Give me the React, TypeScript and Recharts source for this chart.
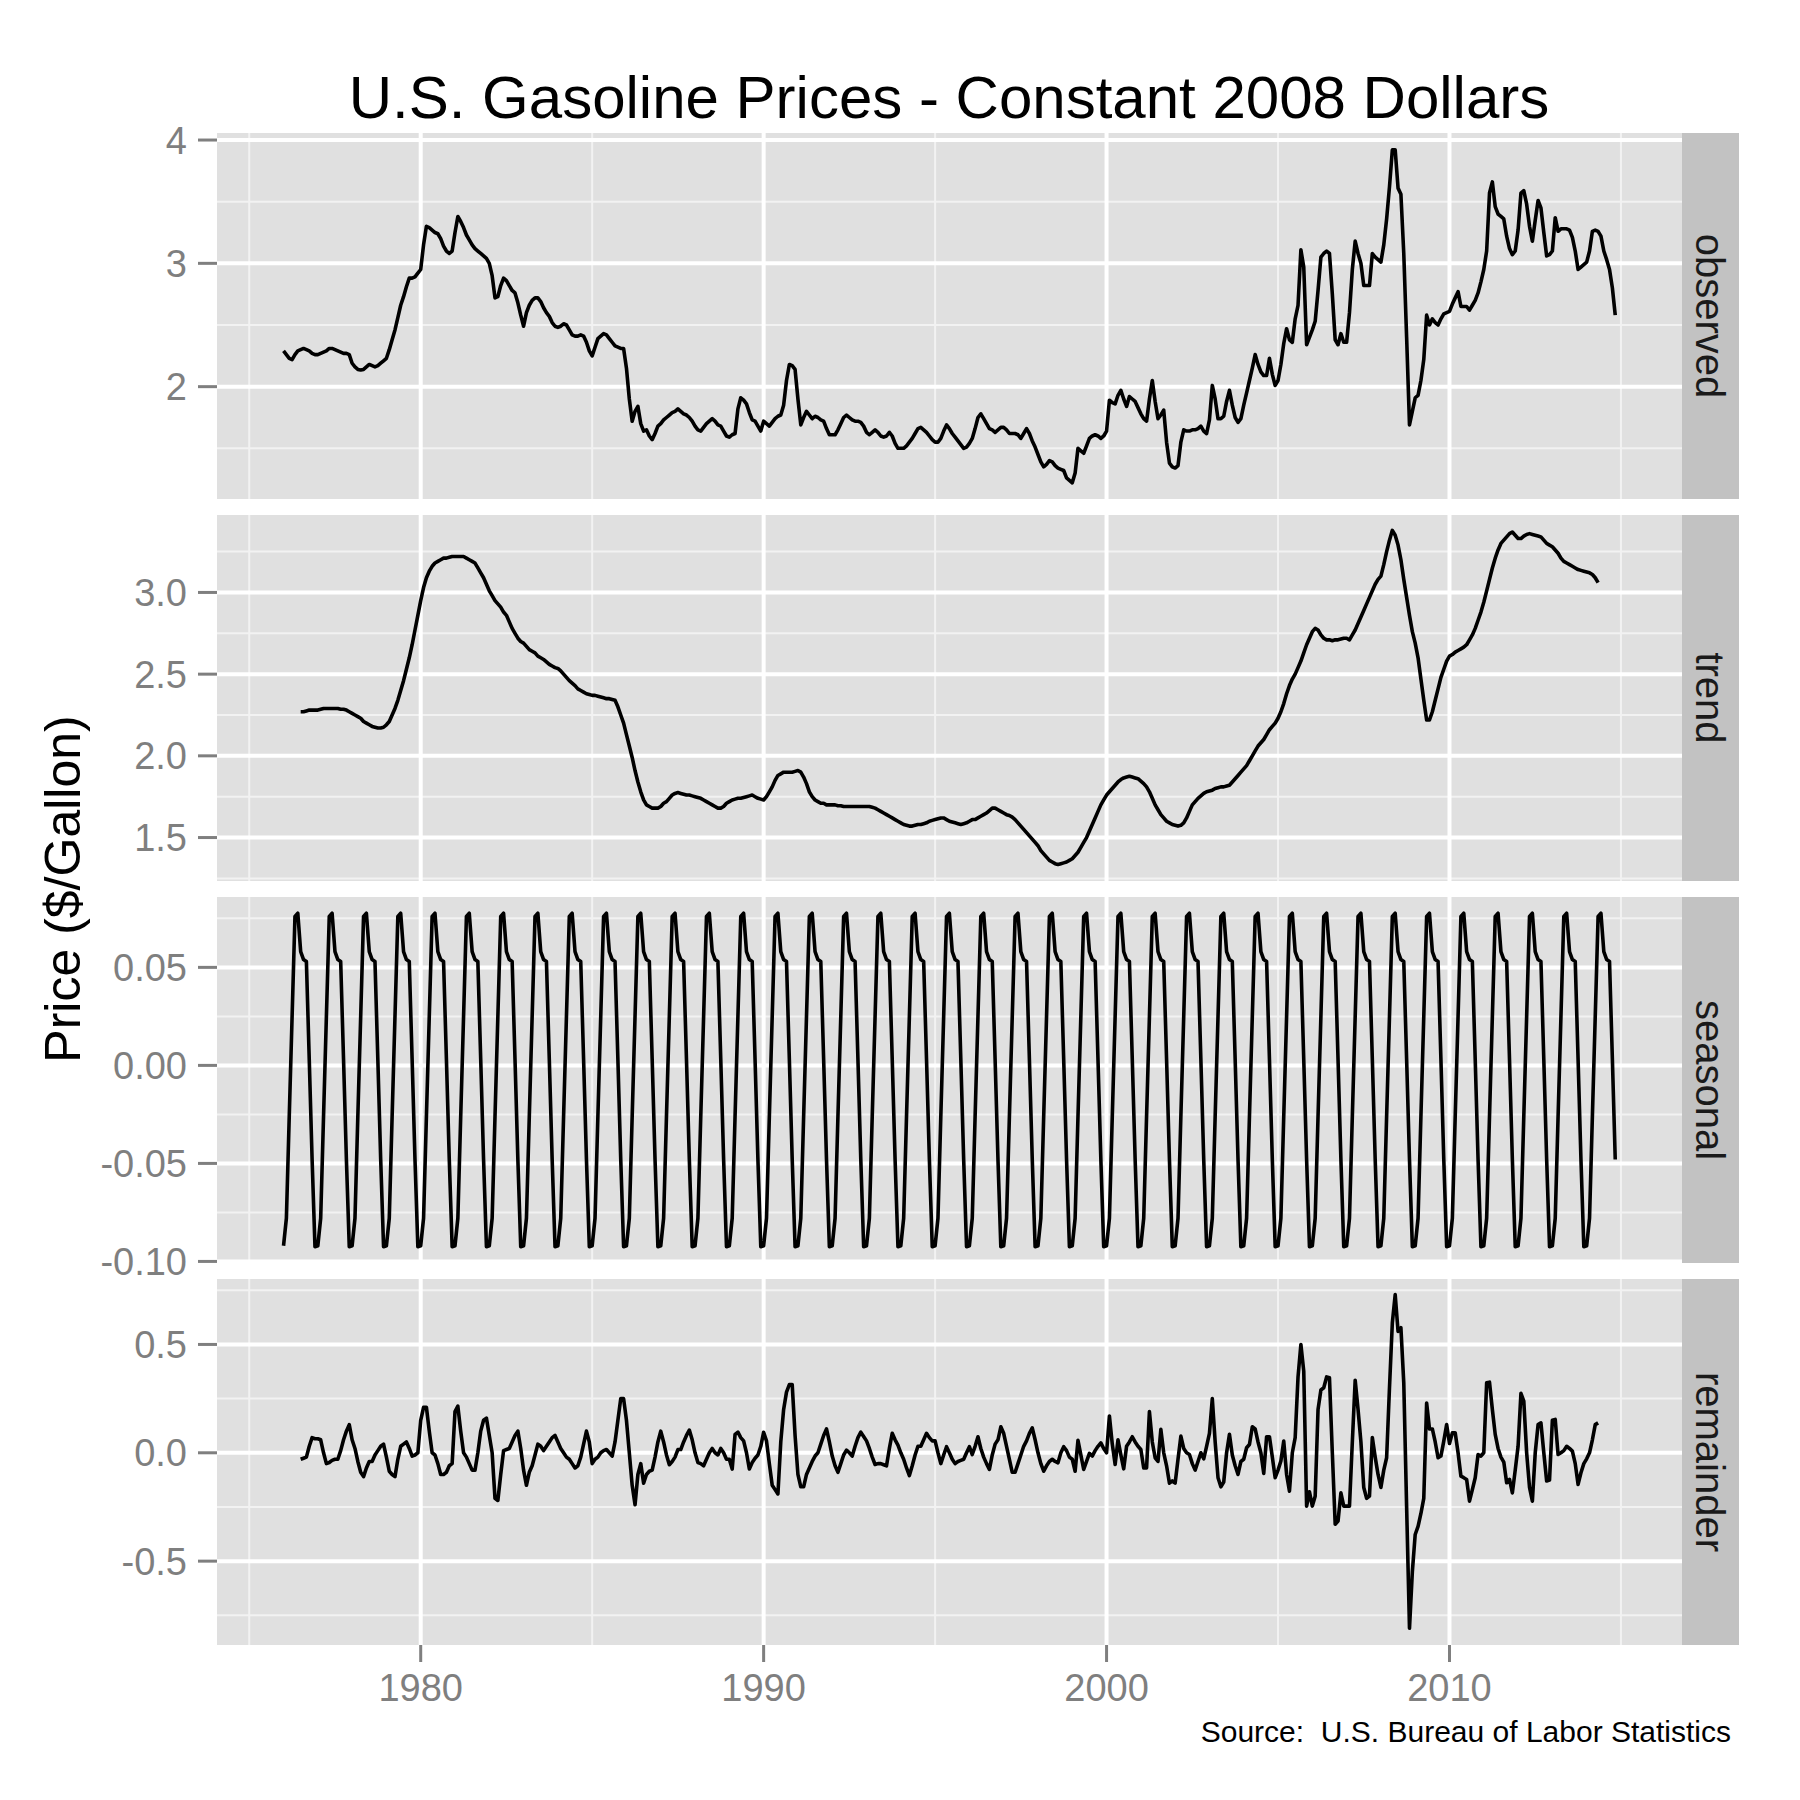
import { LineChart, Line, XAxis, YAxis, CartesianGrid } from "recharts"

const FONT = '"Liberation Sans", Arial, Helvetica, sans-serif'
const AXIS_GREY = "#7f7f7f"
const PANEL_BG = "#e0e0e0"
const STRIP_BG = "#c2c2c2"

// monthly observed price, Jan 1976 .. Nov 2014
const observedStart = 1976
const observedPrice = [
  2.29, 2.26, 2.23, 2.22, 2.26, 2.29, 2.3, 2.31, 2.3, 2.29, 2.27, 2.26,
  2.26, 2.27, 2.28, 2.29, 2.31, 2.31, 2.3, 2.29, 2.28, 2.27, 2.27, 2.26,
  2.19, 2.16, 2.14, 2.135, 2.14, 2.16, 2.18, 2.17, 2.16, 2.17, 2.19, 2.21,
  2.23, 2.3, 2.38, 2.46, 2.56, 2.66, 2.73, 2.81, 2.88, 2.88, 2.89, 2.92,
  2.95, 3.15, 3.3, 3.29, 3.27, 3.25, 3.24, 3.2, 3.14, 3.1, 3.08, 3.1,
  3.25, 3.38, 3.34, 3.29, 3.23, 3.19, 3.15, 3.12, 3.1, 3.08, 3.06, 3.04,
  3.0, 2.9, 2.72, 2.73, 2.82, 2.88, 2.86, 2.82, 2.78, 2.76, 2.68, 2.58,
  2.49, 2.6, 2.66, 2.7, 2.72, 2.72, 2.69, 2.64, 2.6, 2.57, 2.52, 2.49,
  2.48, 2.49, 2.51, 2.5, 2.46, 2.42, 2.41, 2.41, 2.42, 2.41, 2.36, 2.29,
  2.25, 2.32, 2.39, 2.41, 2.43, 2.42, 2.39, 2.36, 2.33, 2.32, 2.31, 2.31,
  2.15, 1.9, 1.72, 1.8, 1.84, 1.7, 1.64, 1.65, 1.6, 1.57, 1.62, 1.68,
  1.7, 1.73, 1.75, 1.77, 1.79, 1.8, 1.82, 1.8, 1.78, 1.77, 1.75, 1.72,
  1.68, 1.65, 1.64, 1.67, 1.7, 1.72, 1.74, 1.72, 1.69, 1.68, 1.64, 1.6,
  1.59, 1.61, 1.62, 1.82, 1.91, 1.89, 1.86, 1.79, 1.73, 1.72, 1.68, 1.64,
  1.72, 1.7, 1.68, 1.71, 1.74, 1.76, 1.77, 1.85, 2.05, 2.18, 2.17, 2.14,
  1.9, 1.69, 1.75, 1.8, 1.77, 1.74, 1.76, 1.75, 1.73, 1.72, 1.66, 1.61,
  1.61, 1.61, 1.65, 1.7, 1.75, 1.77, 1.75, 1.73, 1.72, 1.72, 1.71, 1.68,
  1.63, 1.61, 1.63, 1.65, 1.63, 1.6, 1.59, 1.6, 1.63, 1.6, 1.54, 1.5,
  1.5, 1.5, 1.52, 1.55, 1.58, 1.62, 1.66, 1.67, 1.65, 1.63, 1.6, 1.57,
  1.55, 1.55, 1.58, 1.64, 1.69, 1.66, 1.62, 1.59, 1.56, 1.53, 1.5, 1.51,
  1.54, 1.58, 1.66, 1.75, 1.78, 1.74, 1.7, 1.66, 1.65, 1.63, 1.65, 1.67,
  1.67, 1.65, 1.62, 1.62, 1.62, 1.61, 1.58, 1.62, 1.66, 1.62, 1.56, 1.51,
  1.45, 1.39, 1.35, 1.37, 1.4, 1.39, 1.36, 1.34, 1.33, 1.32, 1.26, 1.24,
  1.22, 1.3, 1.5, 1.48, 1.46, 1.52, 1.58, 1.6, 1.61, 1.6, 1.58, 1.6,
  1.64, 1.89, 1.87, 1.86, 1.93, 1.97, 1.9, 1.84, 1.92, 1.9, 1.88, 1.83,
  1.78, 1.74, 1.72, 1.9, 2.05, 1.88, 1.74, 1.77, 1.81, 1.55, 1.38, 1.35,
  1.34, 1.36, 1.55, 1.65, 1.64, 1.64, 1.65, 1.65, 1.66, 1.68, 1.64, 1.62,
  1.73, 2.01, 1.9, 1.74, 1.74, 1.76, 1.88, 1.97, 1.85, 1.75, 1.71, 1.74,
  1.85, 1.95, 2.05, 2.15, 2.26, 2.18, 2.12, 2.09, 2.09, 2.23, 2.1, 2.01,
  2.05, 2.18, 2.35, 2.47, 2.38, 2.36, 2.55, 2.66, 3.11, 2.97, 2.34, 2.4,
  2.46, 2.53, 2.78, 3.05, 3.08, 3.1, 3.08, 2.75, 2.38, 2.34, 2.43, 2.36,
  2.36, 2.6, 2.95, 3.18, 3.08, 3.0, 2.82, 2.82, 2.82, 3.08, 3.05, 3.03,
  3.01, 3.15, 3.36, 3.62, 3.92, 3.92, 3.61, 3.56, 3.08, 2.4, 1.69, 1.8,
  1.91, 1.93, 2.05, 2.22, 2.58, 2.5, 2.55, 2.52, 2.5, 2.55, 2.59, 2.6,
  2.61, 2.67, 2.72, 2.77, 2.65, 2.65, 2.65, 2.62, 2.66, 2.7, 2.76, 2.85,
  2.95, 3.1, 3.57, 3.66, 3.46, 3.4, 3.38, 3.36, 3.22, 3.12, 3.07, 3.1,
  3.27, 3.57, 3.59, 3.48, 3.3, 3.18, 3.35, 3.51, 3.45, 3.25, 3.06, 3.07,
  3.1, 3.37, 3.26, 3.28, 3.28, 3.28, 3.27, 3.21, 3.1, 2.95, 2.97, 2.99,
  3.01, 3.1, 3.26, 3.27, 3.26, 3.22, 3.1, 3.03, 2.95, 2.8, 2.58,
]

// trend and remainder, Jul 1976 .. May 2014
const trendStart = 1976.5
const trendPrice = [
  2.27, 2.27, 2.275, 2.28, 2.28, 2.28,
  2.28, 2.285, 2.29, 2.29, 2.29, 2.29, 2.29, 2.29, 2.285, 2.285, 2.28, 2.27,
  2.26, 2.25, 2.24, 2.23, 2.21, 2.2, 2.19, 2.18, 2.175, 2.17, 2.17, 2.175,
  2.19, 2.21, 2.25, 2.29, 2.34, 2.4, 2.46, 2.53, 2.6, 2.68, 2.77, 2.86,
  2.95, 3.03, 3.09, 3.13, 3.16, 3.18, 3.19, 3.2, 3.21, 3.21, 3.215, 3.22,
  3.22, 3.22, 3.22, 3.22, 3.21, 3.2, 3.19, 3.18, 3.15, 3.12, 3.09, 3.05,
  3.01, 2.98, 2.95, 2.93, 2.91, 2.88, 2.86, 2.82, 2.78, 2.75, 2.72, 2.7,
  2.69, 2.67, 2.65, 2.64, 2.63, 2.61, 2.6, 2.59, 2.575, 2.56, 2.55, 2.54,
  2.535, 2.52, 2.5, 2.48, 2.46, 2.445, 2.43, 2.41, 2.4, 2.39, 2.38, 2.375,
  2.37, 2.37, 2.365, 2.36, 2.355, 2.35, 2.35, 2.345, 2.34, 2.3, 2.25, 2.2,
  2.13, 2.06, 1.99, 1.91, 1.84, 1.78, 1.73, 1.7, 1.69, 1.68, 1.68, 1.68,
  1.69, 1.71, 1.72, 1.74, 1.76, 1.77, 1.775, 1.77, 1.765, 1.76, 1.76, 1.755,
  1.75, 1.745, 1.74, 1.73, 1.72, 1.71, 1.7, 1.69, 1.68, 1.68, 1.69, 1.71,
  1.72, 1.73, 1.735, 1.74, 1.74, 1.745, 1.75, 1.755, 1.76, 1.75, 1.74, 1.735,
  1.73, 1.75, 1.78, 1.81, 1.85, 1.88, 1.89, 1.9, 1.9, 1.9, 1.9, 1.905,
  1.91, 1.9, 1.87, 1.83, 1.78, 1.75, 1.73, 1.72, 1.71, 1.71, 1.7, 1.7,
  1.7, 1.7, 1.695, 1.695, 1.69, 1.69, 1.69, 1.69, 1.69, 1.69, 1.69, 1.69,
  1.69, 1.69, 1.685, 1.68, 1.67, 1.66, 1.65, 1.64, 1.63, 1.62, 1.61, 1.6,
  1.59, 1.58, 1.575, 1.57, 1.57, 1.575, 1.58, 1.58, 1.585, 1.59, 1.6, 1.605,
  1.61, 1.615, 1.62, 1.62, 1.61, 1.6, 1.595, 1.59, 1.585, 1.58, 1.585, 1.59,
  1.6, 1.61, 1.61, 1.62, 1.63, 1.64, 1.65, 1.665, 1.68, 1.68, 1.67, 1.66,
  1.65, 1.64, 1.635, 1.625, 1.61, 1.59, 1.57, 1.55, 1.53, 1.51, 1.49, 1.47,
  1.45, 1.42, 1.4, 1.38, 1.36, 1.35, 1.34, 1.335, 1.34, 1.345, 1.35, 1.36,
  1.37, 1.39, 1.41, 1.44, 1.47, 1.5, 1.54, 1.58, 1.62, 1.66, 1.7, 1.73,
  1.76, 1.78, 1.8, 1.82, 1.84, 1.855, 1.865, 1.87, 1.875, 1.87, 1.865, 1.86,
  1.845, 1.83, 1.81, 1.78, 1.74, 1.7, 1.67, 1.64, 1.62, 1.6, 1.59, 1.58,
  1.575, 1.57, 1.575, 1.59, 1.62, 1.66, 1.7, 1.72, 1.74, 1.755, 1.77, 1.78,
  1.785, 1.79, 1.8, 1.805, 1.81, 1.81, 1.815, 1.82, 1.84, 1.86, 1.88, 1.9,
  1.92, 1.94, 1.97, 2.0, 2.03, 2.06, 2.08, 2.1, 2.13, 2.16, 2.18, 2.2,
  2.23, 2.27, 2.32, 2.38, 2.43, 2.47, 2.5, 2.54, 2.58, 2.63, 2.68, 2.72,
  2.76, 2.78, 2.77, 2.74, 2.72, 2.71, 2.71, 2.705, 2.71, 2.71, 2.715, 2.72,
  2.72, 2.71, 2.74, 2.77, 2.81, 2.85, 2.89, 2.93, 2.97, 3.01, 3.05, 3.08,
  3.1, 3.17, 3.25, 3.32, 3.38, 3.35, 3.29, 3.2, 3.08, 2.97, 2.86, 2.76,
  2.69, 2.6, 2.47, 2.34, 2.22, 2.22, 2.27, 2.34, 2.41, 2.48, 2.53, 2.58,
  2.61, 2.62, 2.635, 2.645, 2.655, 2.665, 2.68, 2.71, 2.74, 2.78, 2.83, 2.88,
  2.94, 3.01, 3.08, 3.15, 3.21, 3.26, 3.3, 3.32, 3.34, 3.36, 3.37, 3.35,
  3.33, 3.33, 3.345, 3.355, 3.36, 3.355, 3.35, 3.345, 3.34, 3.32, 3.3, 3.29,
  3.28, 3.26, 3.24, 3.21, 3.19, 3.18, 3.17, 3.16, 3.15, 3.14, 3.135, 3.13,
  3.125, 3.12, 3.11, 3.09, 3.06,
]

// one year of the seasonal component, Jan .. Dec
const seasonalByMonth = [-0.092, -0.078, -0.026, 0.025, 0.076, 0.0776, 0.058, 0.054, 0.053, 0.003, -0.048, -0.0925]

const remainderPrice = [
  -0.03, -0.025, -0.02, 0.03, 0.07, 0.065,
  0.065, 0.06, 0.0, -0.05, -0.045, -0.035, -0.03, -0.03, 0.01, 0.06, 0.1, 0.13,
  0.06, 0.02, -0.04, -0.09, -0.11, -0.07, -0.04, -0.04, -0.01, 0.01, 0.03, 0.04,
  -0.02, -0.085, -0.1, -0.11, -0.03, 0.03, 0.04, 0.05, 0.02, -0.015, -0.01, 0.0,
  0.15, 0.21, 0.21, 0.1, 0.0, -0.01, -0.05, -0.1, -0.1, -0.09, -0.06, -0.05,
  0.19, 0.215, 0.1, 0.0, -0.02, -0.05, -0.08, -0.08, 0.0, 0.1, 0.15, 0.16,
  0.08, 0.0, -0.21, -0.22, -0.1, 0.01, 0.015, 0.02, 0.05, 0.08, 0.1, 0.02,
  -0.08, -0.15, -0.09, -0.06, -0.01, 0.04, 0.03, 0.01, 0.03, 0.05, 0.07, 0.08,
  0.05, 0.02, 0.0, -0.02, -0.03, -0.05, -0.07, -0.06, -0.02, 0.04, 0.1, 0.05,
  -0.05, -0.03, -0.02, 0.0, 0.01, 0.015, 0.0, -0.015, 0.05, 0.15, 0.25, 0.25,
  0.15, 0.0, -0.15, -0.24, -0.1, -0.05, -0.14, -0.1, -0.085, -0.08, -0.02, 0.05,
  0.1, 0.05, -0.01, -0.055, -0.04, -0.02, 0.015, 0.015, 0.05, 0.08, 0.105, 0.06,
  0.0, -0.045, -0.05, -0.06, -0.03, 0.0, 0.02, 0.0, -0.01, 0.02, 0.0, -0.03,
  -0.03, -0.075, 0.085, 0.095, 0.07, 0.055, 0.0, -0.075, -0.045, -0.025, -0.01, 0.03,
  0.095, 0.055, -0.05, -0.15, -0.17, -0.19, 0.05, 0.2, 0.28, 0.315, 0.315, 0.08,
  -0.1, -0.157, -0.157, -0.1, -0.07, -0.04, -0.015, 0.0, 0.04, 0.08, 0.11, 0.05,
  -0.015, -0.06, -0.09, -0.05, -0.01, 0.012, 0.0, -0.015, 0.03, 0.07, 0.095, 0.075,
  0.055, 0.02, -0.02, -0.054, -0.05, -0.05, -0.055, -0.06, 0.02, 0.09, 0.06, 0.035,
  0.0, -0.03, -0.07, -0.105, -0.06, -0.01, 0.03, 0.03, 0.06, 0.09, 0.07, 0.055,
  0.055, 0.0, -0.05, -0.01, 0.028, 0.0, -0.03, -0.05, -0.04, -0.035, -0.03, 0.0,
  0.028, -0.008, 0.03, 0.074, 0.02, -0.02, -0.05, -0.077, -0.01, 0.04, 0.06, 0.12,
  0.09, 0.03, -0.03, -0.09, -0.09, -0.05, -0.01, 0.03, 0.055, 0.09, 0.115, 0.06,
  0.0, -0.05, -0.085, -0.06, -0.04, -0.03, -0.04, -0.046, 0.0, 0.028, 0.01, -0.02,
  -0.03, -0.085, 0.058, -0.01, -0.077, -0.04, -0.003, -0.015, 0.01, 0.03, 0.046, 0.02,
  0.0, 0.17, 0.04, -0.054, 0.06, -0.01, -0.074, 0.03, 0.05, 0.074, 0.05, 0.03,
  0.015, -0.07, -0.07, 0.19, 0.05, -0.023, -0.04, 0.108, 0.0, -0.06, -0.14, -0.13,
  -0.14, -0.03, 0.077, 0.02, 0.0, -0.008, -0.05, -0.08, -0.04, 0.0, -0.028, 0.03,
  0.09, 0.25, 0.05, -0.115, -0.157, -0.135, 0.0, 0.085, -0.01, -0.06, -0.1, -0.04,
  -0.03, 0.023, 0.038, 0.12, 0.11, 0.05, 0.0, -0.095, 0.074, 0.074, -0.02, -0.115,
  -0.08, -0.038, 0.054, -0.1, -0.177, 0.0, 0.07, 0.35, 0.5, 0.377, -0.246, -0.18,
  -0.246, -0.2, 0.2, 0.29, 0.3, 0.35, 0.346, 0.0, -0.33, -0.315, -0.185, -0.246,
  -0.246, -0.246, 0.05, 0.335, 0.2, 0.05, -0.16, -0.21, -0.2, 0.07, -0.02, -0.1,
  -0.16, -0.08, -0.023, 0.3, 0.6, 0.73, 0.56, 0.577, 0.323, -0.25, -0.81, -0.55,
  -0.377, -0.34, -0.28, -0.21, 0.23, 0.11, 0.11, 0.05, -0.023, -0.015, 0.054, 0.13,
  0.043, 0.092, 0.092, 0.0, -0.108, -0.115, -0.123, -0.223, -0.17, -0.115, -0.008, -0.015,
  0.0, 0.323, 0.326, 0.2, 0.085, 0.02, -0.02, -0.043, -0.138, -0.123, -0.185, -0.08,
  0.03, 0.274, 0.238, 0.0, -0.16, -0.223, 0.0, 0.13, 0.138, 0.0, -0.13, -0.126,
  0.15, 0.154, -0.008, 0.0, 0.01, 0.03, 0.02, 0.008, -0.05, -0.146, -0.092, -0.05,
  -0.028, 0.0, 0.06, 0.13, 0.138,
]

const yearTicks = [1980, 1990, 2000, 2010]
const yearMinor = [1975, 1985, 1995, 2005, 2015]
const X_DOMAIN: [number, number] = [1974.06, 2016.78]

const PLOT_RIGHT = 1682
const Y_AXIS_W = 217
const PANEL_H = 366
const PAD = 30 // room above/below each panel so edge tick labels are not cut
const panelTops = [133, 515, 897, 1279]

const monthly = (values: number[], start: number) => values.map((v, i) => ({ t: start + i / 12, v }))

const panels = [
  {
    name: "observed",
    data: monthly(observedPrice, observedStart),
    domain: [1.089, 4.057],
    ticks: [2, 3, 4],
    minor: [1.5, 2.5, 3.5],
    fmt: (v: number) => String(v),
  },
  {
    name: "trend",
    data: monthly(trendPrice, trendStart),
    domain: [1.234, 3.474],
    ticks: [1.5, 2.0, 2.5, 3.0],
    minor: [1.25, 1.75, 2.25, 2.75, 3.25],
    fmt: (v: number) => v.toFixed(1),
  },
  {
    name: "seasonal",
    data: monthly(observedPrice.map((_, i) => seasonalByMonth[i % 12]), observedStart),
    domain: [-0.1008, 0.0859],
    ticks: [-0.1, -0.05, 0, 0.05],
    minor: [-0.075, -0.025, 0.025, 0.075],
    fmt: (v: number) => v.toFixed(2),
  },
  {
    name: "remainder",
    data: monthly(remainderPrice, trendStart),
    domain: [-0.887, 0.802],
    ticks: [-0.5, 0, 0.5],
    minor: [-0.75, -0.25, 0.25, 0.75],
    fmt: (v: number) => v.toFixed(1),
  },
]

function Panel({ panel, top, showX }: { panel: (typeof panels)[number]; top: number; showX: boolean }) {
  const axisH = 110
  return (
    <div style={{ position: "absolute", left: 0, top: top - PAD }}>
      <LineChart
        width={PLOT_RIGHT}
        height={PANEL_H + PAD + (showX ? axisH : PAD)}
        data={panel.data}
        margin={{ top: PAD, right: 0, bottom: showX ? 0 : PAD, left: 0 }}
      >
        <CartesianGrid
          fill={PANEL_BG}
          fillOpacity={1}
          stroke="#f2f2f2"
          strokeWidth={2}
          horizontalValues={panel.minor}
          verticalValues={yearMinor}
        />
        <CartesianGrid stroke="#ffffff" strokeWidth={4} horizontalValues={panel.ticks} verticalValues={yearTicks} />
        <XAxis
          type="number"
          dataKey="t"
          domain={X_DOMAIN}
          allowDataOverflow
          ticks={yearTicks}
          interval={0}
          hide={!showX}
          height={axisH}
          axisLine={false}
          tickLine={{ stroke: AXIS_GREY, strokeWidth: 3 }}
          tickSize={17}
          tickMargin={12}
          tick={{ fill: AXIS_GREY, fontSize: 38, fontFamily: FONT }}
        />
        <YAxis
          type="number"
          domain={panel.domain}
          allowDataOverflow
          ticks={panel.ticks}
          interval={0}
          tickFormatter={panel.fmt}
          width={Y_AXIS_W}
          axisLine={false}
          tickLine={{ stroke: AXIS_GREY, strokeWidth: 3 }}
          tickSize={19}
          tickMargin={11}
          tick={{ fill: AXIS_GREY, fontSize: 38, fontFamily: FONT }}
        />
        <Line
          type="linear"
          dataKey="v"
          stroke="#000000"
          strokeWidth={3.6}
          strokeLinejoin="round"
          dot={false}
          activeDot={false}
          isAnimationActive={false}
        />
      </LineChart>
    </div>
  )
}

export default function App() {
  return (
    <div style={{ position: "absolute", left: 0, top: 0, width: 1800, height: 1800, background: "#ffffff" }}>
      {panels.map((p, i) => (
        <Panel key={p.name} panel={p} top={panelTops[i]} showX={i === panels.length - 1} />
      ))}
      <svg
        width={1800}
        height={1800}
        style={{ position: "absolute", left: 0, top: 0, pointerEvents: "none" }}
        fontFamily={FONT}
      >
        <text x={949} y={118} fontSize={60} textAnchor="middle" fill="#000">
          U.S. Gasoline Prices - Constant 2008 Dollars
        </text>
        <text x={80} y={889} fontSize={50} textAnchor="middle" fill="#000" transform="rotate(-90 80 889)">
          Price ($/Gallon)
        </text>
        {panels.map((p, i) => {
          const cy = panelTops[i] + PANEL_H / 2
          return (
            <g key={p.name}>
              <rect x={PLOT_RIGHT} y={panelTops[i]} width={57} height={PANEL_H} fill={STRIP_BG} />
              <text
                x={1696}
                y={cy}
                fontSize={40}
                textAnchor="middle"
                fill="#1a1a1a"
                transform={`rotate(90 1696 ${cy})`}
              >
                {p.name}
              </text>
            </g>
          )
        })}
        <text x={1731} y={1742} fontSize={30} textAnchor="end" fill="#000" style={{ whiteSpace: "pre" }}>
          {"Source:  U.S. Bureau of Labor Statistics"}
        </text>
      </svg>
    </div>
  )
}
